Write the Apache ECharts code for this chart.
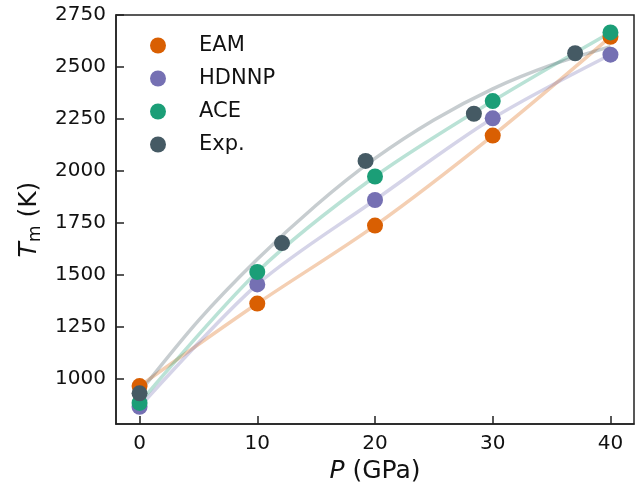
<!DOCTYPE html>
<html>
<head>
<meta charset="utf-8">
<script src="https://cdn.jsdelivr.net/npm/echarts@6/dist/echarts.min.js"></script>
<style>
  html, body { margin: 0; padding: 0; background: #fff; }
  #chart { width: 637px; height: 489px; }
</style>
</head>
<body>
<div id="chart"></div>
<script>
// 数据：压力 P (GPa) 与熔点 Tm (K)
const seriesNames = ['EAM', 'HDNNP', 'ACE', 'Exp.'];
const seriesColors = ['#d95f02', '#7570b3', '#1b9e77', '#455a64'];

const pressureCalc = [0, 10, 20, 30, 40];
const tmEAM = [965, 1362, 1737, 2170, 2645];
const tmHDNNP = [865, 1454, 1860, 2253, 2559];
const tmACE = [884, 1514, 1973, 2336, 2666];

const pressureExp = [0, 12.1, 19.2, 28.4, 37.0];
const tmExp = [930, 1653, 2048, 2275, 2566];

const pressureExpFit = [0, 5, 10, 15, 20, 25, 30, 35, 40];
const tmExpFit = [935, 1280, 1575, 1835, 2060, 2245, 2395, 2510, 2598];

const xTicks = [0, 10, 20, 30, 40];
const yTicks = [1000, 1250, 1500, 1750, 2000, 2250, 2500, 2750];

const fontName = 'DejaVu Sans';

function pairs(xs, ys) {
    let out = [];
    for (let i = 0; i < xs.length; i++) {
        out.push([xs[i], ys[i]]);
    }
    return out;
}

const pointSets = [
    pairs(pressureCalc, tmEAM),
    pairs(pressureCalc, tmHDNNP),
    pairs(pressureCalc, tmACE),
    pairs(pressureExp, tmExp)
];
const fitSets = [
    pairs(pressureCalc, tmEAM),
    pairs(pressureCalc, tmHDNNP),
    pairs(pressureCalc, tmACE),
    pairs(pressureExpFit, tmExpFit)
];

let series = [];
// 先画半透明曲线
for (let i = 0; i < 4; i++) {
    series.push({
        name: seriesNames[i] + ' fit',
        type: 'line',
        data: fitSets[i],
        smooth: 0.3,
        symbol: 'none',
        silent: true,
        z: 1,
        lineStyle: { color: seriesColors[i], width: 3.5, opacity: 0.3 }
    });
}
// 再画散点
for (let i = 0; i < 4; i++) {
    series.push({
        name: seriesNames[i],
        type: 'scatter',
        data: pointSets[i],
        symbolSize: 16,
        z: 3,
        itemStyle: { color: seriesColors[i], opacity: 1 }
    });
}

const chart = echarts.init(document.getElementById('chart'));
chart.setOption({
    animation: false,
    textStyle: { fontFamily: fontName },
    grid: {
        left: 116, right: 3, top: 15, bottom: 62,
        show: true, borderColor: '#222', borderWidth: 1.5
    },
    legend: {
        data: seriesNames,
        orient: 'vertical',
        left: 145, top: 30,
        icon: 'circle',
        itemWidth: 72, itemHeight: 16,
        itemGap: 12,
        textStyle: { fontSize: 21, color: '#111', fontFamily: fontName }
    },
    xAxis: {
        type: 'value',
        min: -2, max: 42,
        name: '{i|P} (GPa)',
        nameLocation: 'middle',
        nameGap: 30,
        nameTextStyle: {
            fontSize: 25, color: '#111', fontFamily: fontName,
            rich: { i: { fontSize: 25, fontStyle: 'italic', fontFamily: fontName, color: '#111' } }
        },
        splitLine: { show: false },
        axisLine: { onZero: false, lineStyle: { color: '#222', width: 1.5 } },
        axisTick: { inside: true, length: 8, lineStyle: { color: '#222', width: 1.5 }, customValues: xTicks },
        axisLabel: { fontSize: 20, color: '#111', margin: 10, customValues: xTicks,
            formatter: function (v) { return String(v); } }
    },
    yAxis: {
        type: 'value',
        min: 782, max: 2750,
        name: '{i|T}{s|m} (K)',
        nameLocation: 'middle',
        nameGap: 70,
        nameTextStyle: {
            fontSize: 25, color: '#111', fontFamily: fontName,
            rich: {
                i: { fontSize: 25, fontStyle: 'italic', fontFamily: fontName, color: '#111' },
                s: { fontSize: 17, fontFamily: fontName, color: '#111', padding: [12, 0, 0, 0] }
            }
        },
        splitLine: { show: false },
        axisLine: { onZero: false, lineStyle: { color: '#222', width: 1.5 } },
        axisTick: { inside: true, length: 8, lineStyle: { color: '#222', width: 1.5 }, customValues: yTicks },
        axisLabel: { fontSize: 20, color: '#111', margin: 10, customValues: yTicks,
            formatter: function (v) { return String(v); } }
    },
    series: series
});
</script>
</body>
</html>
